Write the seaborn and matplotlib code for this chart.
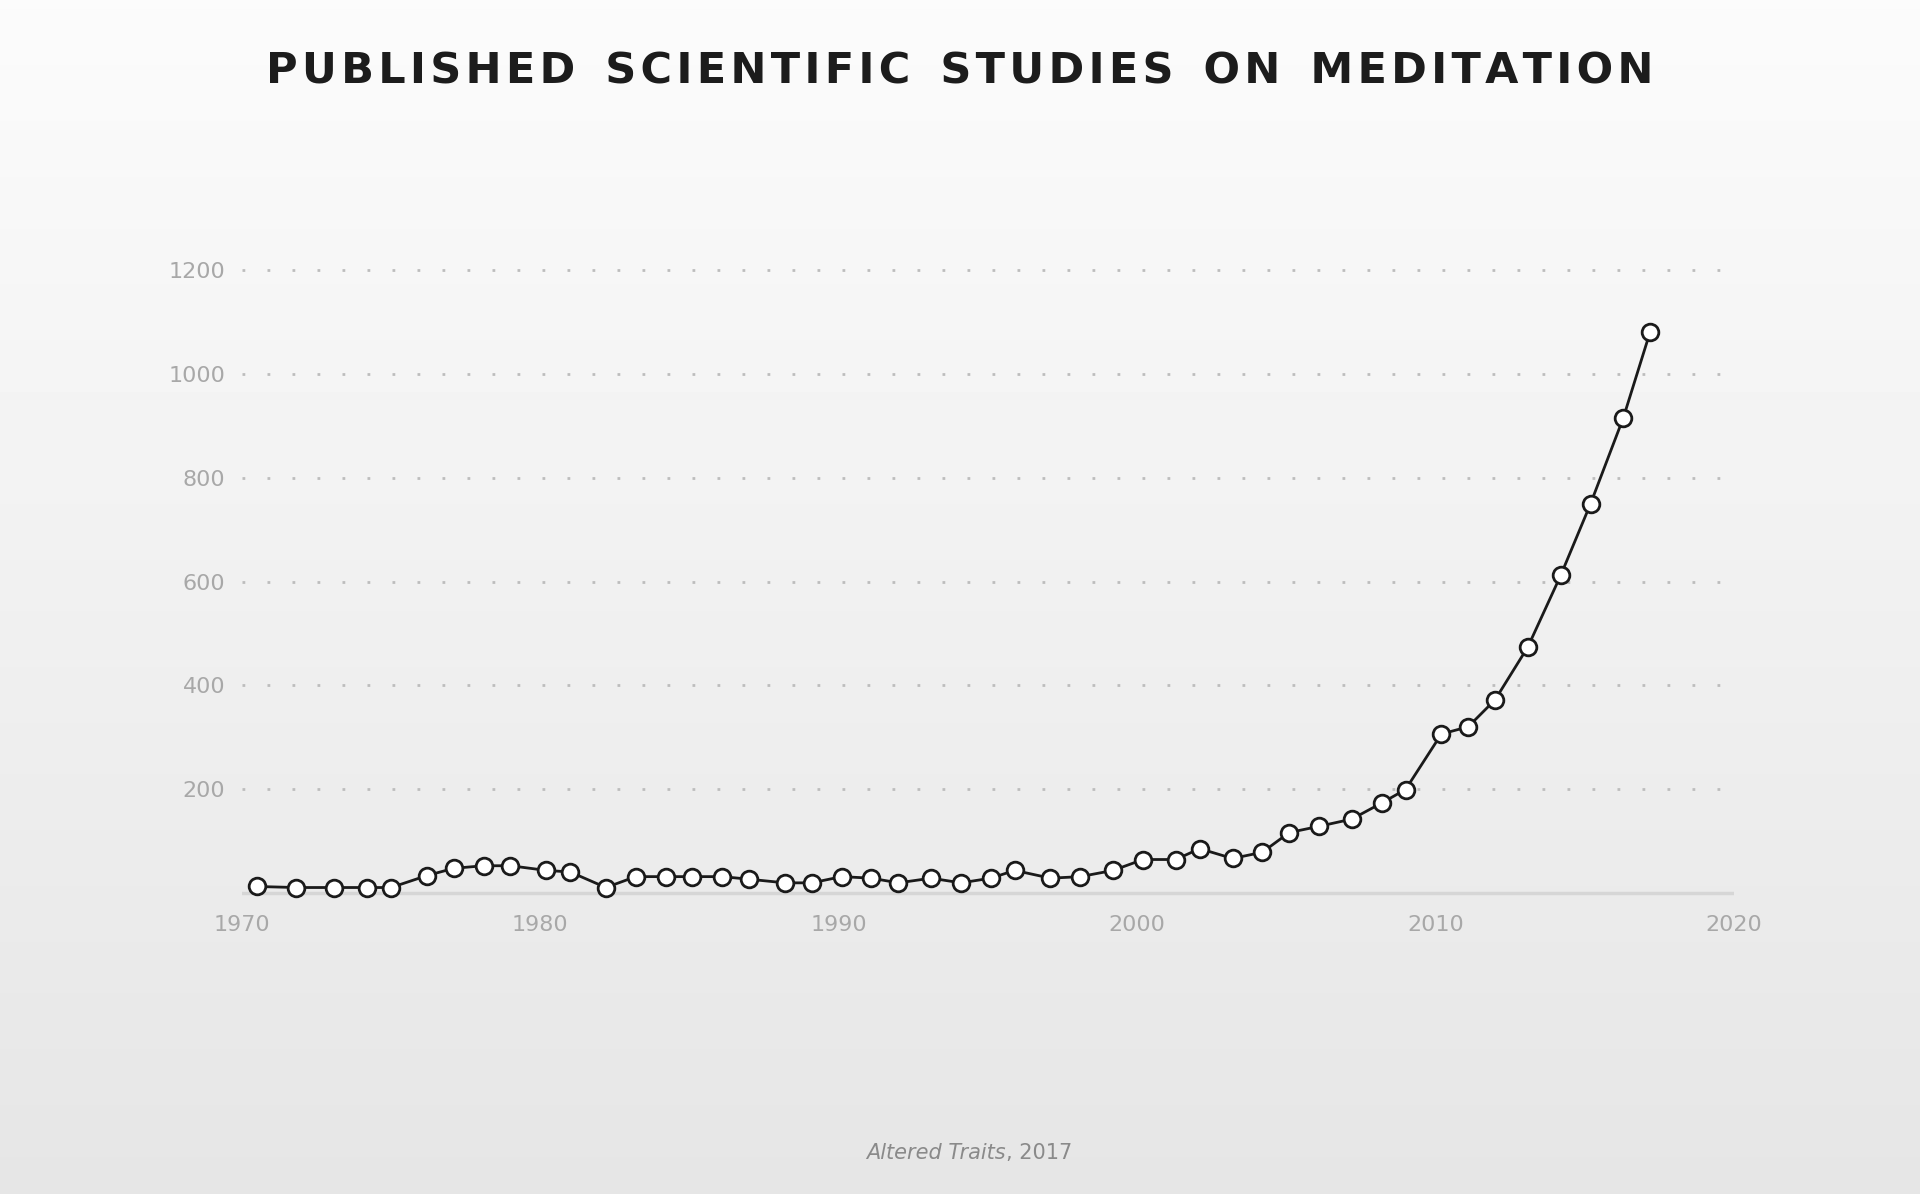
import numpy as np
import pandas as pd
import matplotlib
matplotlib.use("Agg")
import matplotlib.pyplot as plt
import seaborn as sns

years = [1970.5, 1971.8, 1973.1, 1974.2, 1975.0, 1976.2, 1977.1, 1978.1, 1979.0, 1980.2,
         1981.0, 1982.2, 1983.2, 1984.2, 1985.1, 1986.1, 1987.0, 1988.2, 1989.1, 1990.1,
         1991.1, 1992.0, 1993.1, 1994.1, 1995.1, 1995.9, 1997.1, 1998.1, 1999.2, 2000.2,
         2001.3, 2002.1, 2003.2, 2004.2, 2005.1, 2006.1, 2007.2, 2008.2, 2009.0, 2010.2,
         2011.1, 2012.0, 2013.1, 2014.2, 2015.2, 2016.3, 2017.2]
studies = [12, 10, 10, 10, 10, 33, 47, 52, 52, 43,
           40, 10, 31, 31, 31, 31, 26, 19, 19, 31,
           28, 19, 28, 19, 28, 43, 28, 31, 43, 64,
           64, 85, 66, 78, 116, 128, 142, 173, 199, 306,
           320, 372, 474, 612, 750, 916, 1082]
n = min(len(years), len(studies))
df = pd.DataFrame({"year": years[:n], "studies": studies[:n]})
yticks = [200, 400, 600, 800, 1000, 1200]
xticks = [1970, 1980, 1990, 2000, 2010, 2020]

sns.set_theme(style="white")
fig = plt.figure(figsize=(19.2, 11.94), dpi=100)
# background gradient
bg = fig.add_axes([0, 0, 1, 1], zorder=-10)
grad = np.linspace(0.985, 0.90, 256).reshape(-1, 1)
bg.imshow(grad, aspect="auto", cmap="gray", vmin=0, vmax=1, extent=[0, 1, 0, 1])
bg.axis("off")

ax = fig.add_axes([0.126, 0.248, 0.777, 0.532])
ax.set_facecolor("none")
ax.patch.set_alpha(0)
for y in yticks:
    ax.axhline(y, color="#bdbdbd", lw=2, ls=(0, (1, 8)), zorder=0)
ax.axhline(0, color="#d6d6d6", lw=2.5, zorder=0)
sns.lineplot(data=df, x="year", y="studies", ax=ax, color="#1a1a1a", lw=2,
             marker="o", markersize=12, markerfacecolor="white",
             markeredgecolor="#1a1a1a", markeredgewidth=2, zorder=3)
ax.set_xlim(1970, 2020)
ax.set_ylim(-10, 1215)
ax.set_xticks(xticks)
ax.set_yticks(yticks)
ax.tick_params(colors="#a8a8a8", labelsize=16, length=0, pad=12)
ax.set_xlabel("")
ax.set_ylabel("")
for s in ax.spines.values():
    s.set_visible(False)
for lab in ax.get_yticklabels():
    lab.set_horizontalalignment("right")

fig.text(0.5, 0.94, "P U B L I S H E D   S C I E N T I F I C   S T U D I E S   O N   M E D I T A T I O N".replace(" ", "\u200a").replace("\u200a\u200a\u200a", "  "),
         ha="center", va="center", fontsize=31, fontweight="black", color="#1c1c1c",
         family="DejaVu Sans")
fig.text(0.524, 0.034, "Altered Traits", ha="right", va="center", fontsize=15,
         style="italic", color="#8a8a8a")
fig.text(0.524, 0.034, ", 2017", ha="left", va="center", fontsize=15, color="#8a8a8a")
fig.savefig("out.png", dpi=100)
